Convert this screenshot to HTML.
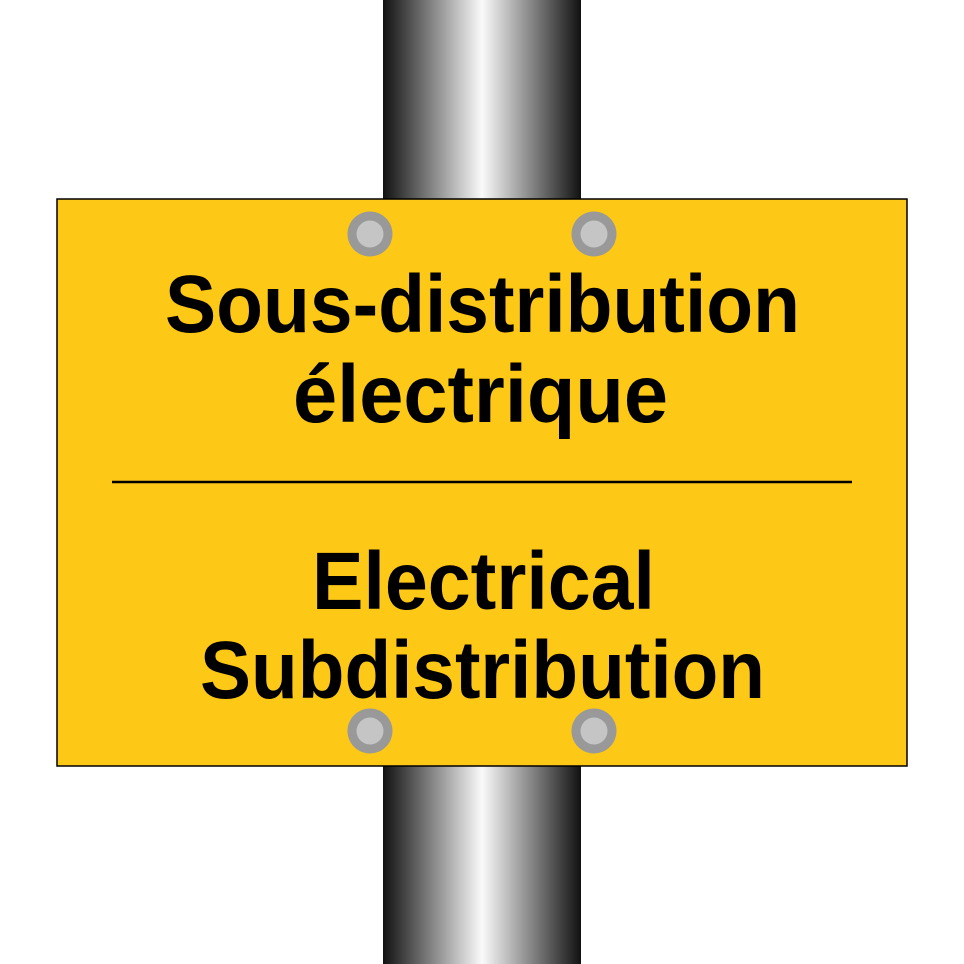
<!DOCTYPE html>
<html><head><meta charset="utf-8"><style>html,body{margin:0;padding:0;background:#fff}svg{display:block}</style></head>
<body>
<svg width="964" height="964" viewBox="0 0 964 964" xmlns="http://www.w3.org/2000/svg">
<defs>
<linearGradient id="pole" x1="0" x2="1" y1="0" y2="0">
<stop offset="0" stop-color="#111"/>
<stop offset="0.5" stop-color="#fafafa"/>
<stop offset="1" stop-color="#111"/>
</linearGradient>
</defs>
<rect x="383" y="0" width="198" height="964" fill="url(#pole)"/>
<rect x="57" y="199" width="850" height="567" fill="#fdc816" stroke="#000" stroke-width="1.5"/>
<g fill="#999"><circle cx="370" cy="234" r="22.5"/><circle cx="594" cy="234" r="22.5"/><circle cx="370" cy="731" r="22.5"/><circle cx="594" cy="731" r="22.5"/></g>
<g fill="#c5c5c5"><circle cx="370" cy="234" r="13.5"/><circle cx="594" cy="234" r="13.5"/><circle cx="370" cy="731" r="13.5"/><circle cx="594" cy="731" r="13.5"/></g>
<line x1="112" y1="482" x2="852" y2="482" stroke="#000" stroke-width="2.5"/>
<g font-family="Liberation Sans, sans-serif" font-weight="bold" font-size="82" fill="#000">
<text x="165" y="332" textLength="635" lengthAdjust="spacingAndGlyphs">Sous-distribution</text>
<text x="293" y="422" textLength="375" lengthAdjust="spacingAndGlyphs">électrique</text>
<text x="312" y="609" textLength="343" lengthAdjust="spacingAndGlyphs">Electrical</text>
<text x="200" y="698" textLength="565" lengthAdjust="spacingAndGlyphs">Subdistribution</text>
</g>
</svg>
</body></html>
